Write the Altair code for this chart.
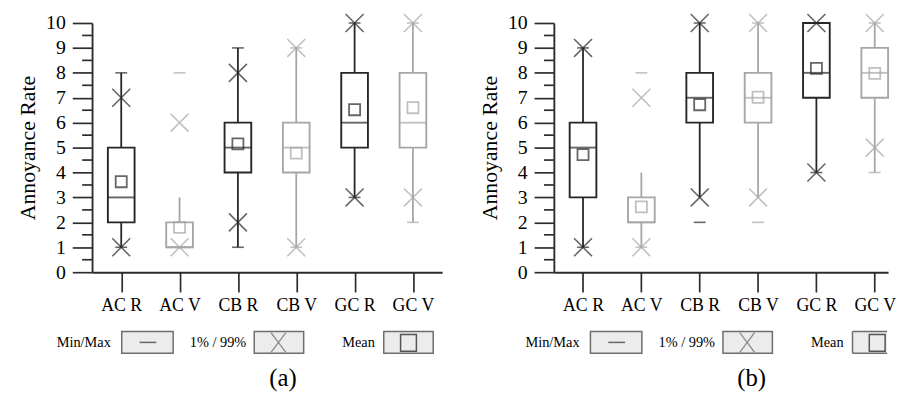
import altair as alt
import pandas as pd

categories = ["AC R", "AC V", "CB R", "CB V", "GC R", "GC V"]
groups = ["R", "V", "R", "V", "R", "V"]

# panel (a)
a_q1 = [2, 1, 4, 4, 5, 5]
a_q3 = [5, 2, 6, 6, 8, 8]
a_med = [3, 1, 5, 5, 6, 6]
a_mean = [3.63, 1.8, 5.15, 4.78, 6.52, 6.6]
a_wlo = [1, 1, 1, 1, 3, 2]
a_whi = [8, 3, 9, 9, 10, 10]
a_min = [1, 1, 1, 1, 3, 2]
a_max = [8, 8, 9, 9, 10, 10]
a_p1 = [1, 1, 2, 1, 3, 3]
a_p99 = [7, 6, 8, 9, 10, 10]

# panel (b)
b_q1 = [3, 2, 6, 6, 7, 7]
b_q3 = [6, 3, 8, 8, 10, 9]
b_med = [5, 2, 7, 7, 8, 8]
b_mean = [4.72, 2.62, 6.72, 7.02, 8.18, 7.98]
b_wlo = [1, 1, 3, 3, 4, 4]
b_whi = [9, 4, 10, 10, 10, 10]
b_min = [1, 1, 2, 2, 4, 4]
b_max = [9, 8, 10, 10, 10, 10]
b_p1 = [1, 1, 3, 3, 4, 5]
b_p99 = [9, 7, 10, 10, 10, 10]

y_major = list(range(11))
y_minor = [i + 0.5 for i in range(10)]
legend_labels = ["Min/Max", "1% / 99%", "Mean"]
captions = ["(a)", "(b)"]

FONT = "Liberation Serif"
BLACK = "#262626"
GRAY = "#a6a6a6"
AXIS = "#2c2c2c"
TXT = "#000000"
H = 252
BOXW = 27

color_scale = alt.Scale(domain=["R", "V"], range=[BLACK, GRAY])


def panel(q1, q3, med, mean, wlo, whi, mn, mx, p1, p99, caption, W, pad, align, shift, clip_right):
    df = pd.DataFrame({"cat": categories, "grp": groups, "q1": q1, "q3": q3,
                       "med": med, "mean": mean, "wlo": wlo, "whi": whi})
    ext = pd.DataFrame({"cat": categories * 2, "grp": groups * 2, "v": mn + mx})
    pct = pd.DataFrame({"cat": categories * 2, "grp": groups * 2, "v": p1 + p99})
    minor = pd.DataFrame({"v": y_minor})

    x_axis = alt.Axis(title=None, labelAngle=0, labelFont=FONT, labelFontSize=18,
                      labelColor=TXT, tickSize=20, tickWidth=1.7, tickColor=AXIS,
                      domainColor=AXIS, domainWidth=1.9, labelPadding=5, grid=False)
    y_axis = alt.Axis(title="Annoyance Rate", values=y_major, format="d",
                      tickSize=20, tickWidth=1.7, tickColor=AXIS, domainColor=AXIS,
                      domainWidth=1.9, labelFont=FONT, labelFontSize=20, labelColor=TXT,
                      labelPadding=7, titleFont=FONT, titleFontSize=22,
                      titleFontWeight="normal", titleColor=TXT, titlePadding=6,
                      grid=False)
    xs = alt.Scale(type="point", domain=categories, padding=pad, align=align)
    ys = alt.Scale(domain=[0, 10], nice=False, zero=True)

    def X():
        return alt.X("cat:N", scale=xs, axis=x_axis, sort=categories)

    def Y(f):
        return alt.Y(f + ":Q", scale=ys, axis=y_axis)

    base = alt.Chart(df)
    col = alt.Color("grp:N", scale=color_scale, legend=None)
    strk = alt.Stroke("grp:N", scale=color_scale, legend=None)

    w_lo = base.mark_rule(strokeWidth=1.8).encode(x=X(), y=Y("wlo"), y2="q1", stroke=strk)
    w_hi = base.mark_rule(strokeWidth=1.8).encode(x=X(), y=Y("q3"), y2="whi", stroke=strk)
    box = base.mark_bar(fill="white", strokeWidth=1.9, size=BOXW).encode(
        x=X(), y=Y("q1"), y2="q3", stroke=strk)
    median = base.mark_tick(size=BOXW + 1, thickness=1.9).encode(x=X(), y=Y("med"), color=col)
    meanm = base.mark_point(shape="square", filled=False, size=125, strokeWidth=1.8).encode(
        x=X(), y=Y("mean"), stroke=strk)
    extm = alt.Chart(ext).mark_tick(size=12, thickness=1.6).encode(
        x=X(), y=Y("v"), color=col)
    pctm = alt.Chart(pct).mark_point(shape="M-1,-1L1,1M-1,1L1,-1", filled=False,
                                     size=330, strokeWidth=1.6).encode(
        x=X(), y=Y("v"), stroke=strk)
    minor_ticks = alt.Chart(minor).mark_rule(color=AXIS, strokeWidth=1.7).encode(
        x=alt.value(-10), x2=alt.value(0), y=Y("v"))

    one = alt.Chart(pd.DataFrame({"k": [0]}))
    lay = []

    def txt(label, xr, yv, size, align="right", baseline="middle"):
        return one.mark_text(font=FONT, fontSize=size, align=align, baseline=baseline,
                             color=TXT).encode(x=alt.value(xr + shift), y=alt.value(yv),
                                               text=alt.value(label))

    def rect(x1, x2, y1, y2, fill, stroke, sw):
        return one.mark_rect(fill=fill, stroke=stroke, strokeWidth=sw).encode(
            x=alt.value(x1 + shift), x2=alt.value(x2 + shift), y=alt.value(y1), y2=alt.value(y2))

    def line(x1, x2, y1, y2, color, sw):
        return one.mark_rule(color=color, strokeWidth=sw).encode(
            x=alt.value(x1 + shift), x2=alt.value(x2 + shift), y=alt.value(y1), y2=alt.value(y2))

    ly1, ly2, lyc = 312, 334, 323
    BOXF, BOXS = "#ececec", "#6e6e6e"
    lay.append(txt(legend_labels[0], 19, lyc + 1, 14.5))
    lay.append(rect(30, 82, ly1, ly2, BOXF, BOXS, 1.5))
    lay.append(line(48, 65, lyc, lyc, "#666666", 1.5))
    lay.append(txt(legend_labels[1], 156, lyc + 1, 14.5))
    lay.append(rect(164, 214, ly1, ly2, BOXF, BOXS, 1.5))
    lay.append(line(181, 196, ly1 + 1, ly2 - 1, "#8a8a8a", 1.3))
    lay.append(line(181, 196, ly2 - 1, ly1 + 1, "#8a8a8a", 1.3))
    lay.append(txt(legend_labels[2], 286, lyc + 1, 14.5))
    if clip_right is None:
        lay.append(rect(295, 345, ly1, ly2, BOXF, BOXS, 1.5))
    else:
        end = clip_right - shift
        lay.append(rect(295, end, ly1, ly2, BOXF, None, 0))
        lay.append(line(295, 295, ly1, ly2, BOXS, 1.5))
        lay.append(line(295, end, ly1, ly1, BOXS, 1.5))
        lay.append(line(295, end, ly2, ly2, BOXS, 1.5))
    lay.append(rect(312, 328, ly1 + 3, ly2 - 2, BOXF, "#555555", 1.5))
    lay.append(txt(caption, 193, 372, 25, align="center", baseline="bottom"))

    return alt.layer(w_lo, w_hi, box, median, meanm, extm, pctm, minor_ticks, *lay).properties(
        width=W, height=H)


pa = panel(a_q1, a_q3, a_med, a_mean, a_wlo, a_whi, a_min, a_max, a_p1, a_p99,
           captions[0], 354, 0.5, 0.5, 0, None)
pb = panel(b_q1, b_q3, b_med, b_mean, b_wlo, b_whi, b_min, b_max, b_p1, b_p99,
           captions[1], 338, 0.3644, 0.686, 7, 337)

chart = alt.hconcat(pa, pb, spacing=37).properties(
    padding={"left": 9, "top": 0, "right": 0, "bottom": 0},
    background="white"
).configure_view(stroke=None)

chart.save("out.html", embed_options={"renderer": "svg", "actions": False})
